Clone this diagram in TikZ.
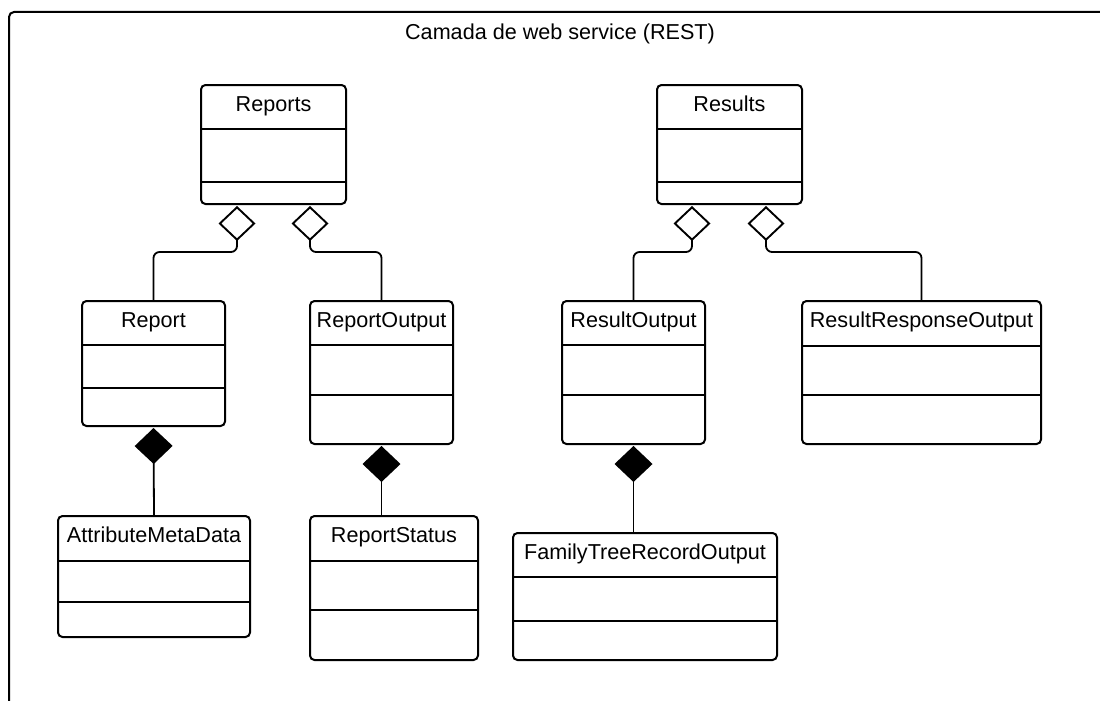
\documentclass[tikz,border=0pt]{standalone}
\usepackage{fontspec}
\setmainfont{Liberation Sans}
\usetikzlibrary{arrows.meta,calc}

% A UML class: name, left, top, right, bottom, first divider, second divider, title
\newcommand\umlclass[8]{%
  \node[umlbox, anchor=north west,
        minimum width={#4pt-#2pt}, minimum height={#5pt-#3pt}] (#1) at (#2,#3) {};
  \draw[divider] (#2,#6) -- (#4,#6);
  \draw[divider] (#2,#7) -- (#4,#7);
  \node[classname] (#1-name) at ($(#1.north)+(0,27)$) {#8};
}

\tikzset{
  umlbox/.style={draw=black, fill=white, line width=2pt, rounded corners=4.5pt, inner sep=0pt},
  divider/.style={draw=black, line width=1.6pt},
  classname/.style={anchor=base, inner sep=0pt, font=\fontsize{21.6}{26}\selectfont},
  frameline/.style={draw=black, line width=2pt, rounded corners=5pt},
  aggregation/.style={draw=black, line width=1.8pt, rounded corners=6pt, shorten <=1pt,
    {Diamond[open, length=35pt, width=37pt, line width=1.9pt]}-},
  composition/.style={draw=black, line width=1.8pt, shorten <=1pt,
    {Diamond[length=36pt, width=38pt]}-},
}

\begin{document}
\begin{tikzpicture}[x=1pt, y=-1pt]
  \clip (0,0) rectangle (1100,701);
  \fill[white] (0,0) rectangle (1100,701);

  % package frame, open to the right and bottom
  \draw[frameline] (1130,12) -- (9,12) -- (9,730);
  \node[anchor=base, inner sep=0pt, font=\fontsize{21.6}{26}\selectfont] (layer) at (560,40)
    {Camada de web service (REST)};

  % classes
  \umlclass{Reports}{200}{84}{345}{203}{129}{182}{Reports}
  \umlclass{Results}{656}{84}{801}{203}{129}{182}{Results}
  \umlclass{Report}{81}{300}{224}{425}{345}{388}{Report}
  \umlclass{ReportOutput}{309}{300}{452}{443}{345}{395}{ReportOutput}
  \umlclass{ResultOutput}{561}{300}{704}{443}{345}{395}{ResultOutput}
  \umlclass{ResultResponseOutput}{801}{300}{1040}{443}{346}{395}{ResultResponseOutput}
  \umlclass{AttributeMetaData}{57}{515}{249}{636}{561}{602}{AttributeMetaData}
  \umlclass{ReportStatus}{309}{515}{477}{659}{561}{610}{ReportStatus}
  \umlclass{FamilyTreeRecordOutput}{512}{532}{776}{659}{577}{621}{FamilyTreeRecordOutput}

  % aggregations
  \draw[aggregation] ($(Reports.south west)+(37,0)$) |- ($(Report.north)+(0,-48)$) -- (Report.north);
  \draw[aggregation] ($(Reports.south east)+(-37,0)$) |- ($(ReportOutput.north)+(0,-48)$) -- (ReportOutput.north);
  \draw[aggregation] ($(Results.south west)+(36,0)$) |- ($(ResultOutput.north)+(0,-48)$) -- (ResultOutput.north);
  \draw[aggregation] ($(Results.south east)+(-37,0)$) |- ($(ResultResponseOutput.north)+(0,-48)$) -- (ResultResponseOutput.north);

  % compositions
  \draw[composition] (Report.south) -- (AttributeMetaData.north);
  \draw[composition] (ReportOutput.south) -- (ReportOutput.south |- ReportStatus.north);
  \draw[composition] (ResultOutput.south) -- (ResultOutput.south |- FamilyTreeRecordOutput.north);
\end{tikzpicture}
\end{document}
